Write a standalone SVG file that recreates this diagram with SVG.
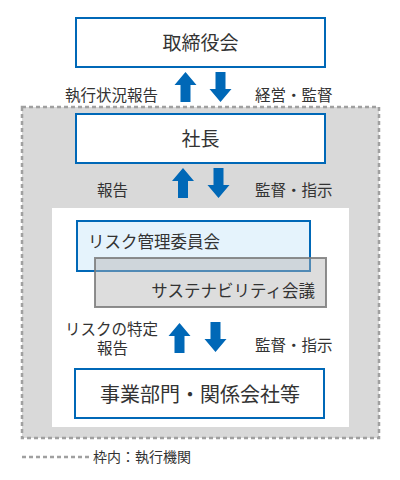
<svg xmlns="http://www.w3.org/2000/svg" xmlns:xlink="http://www.w3.org/1999/xlink" width="400" height="480" viewBox="0 0 400 480">
<style>
text{font-family:"Noto Sans CJK JP","Noto Sans",sans-serif;fill:#333}
.box{fill:#fff;stroke:#0068b7;stroke-width:2}
.big{font-size:19px;text-anchor:middle}
.lbl{font-size:15.5px}
.mid{font-size:16.5px}
.arrow{fill:#0068b7}
.dash{fill:none;stroke:#a0a0a0;stroke-width:2.5;stroke-dasharray:4 3}
</style>
<defs>
<path id="up" d="M0,0 L11,13 L5,13 L5,30 L-5,30 L-5,13 L-11,13 Z"/>
<path id="down" d="M0,30 L11,17 L5,17 L5,0 L-5,0 L-5,17 L-11,17 Z"/>
</defs>
<g id="frame-executive">
<rect x="22" y="107" width="357" height="331" fill="#d9d9d9"/>
<rect x="22" y="107" width="357" height="331" class="dash"/>
<rect x="52" y="208" width="297" height="219" fill="#fff"/>
</g>
<g id="node-board">
<rect class="box" x="76" y="18" width="249" height="49"/>
<text class="big" x="200.5" y="50">取締役会</text>
</g>
<g id="node-president">
<rect class="box" x="76" y="114" width="249" height="49"/>
<text class="big" x="200.5" y="146">社長</text>
</g>
<g id="node-risk">
<rect x="77" y="221" width="233" height="50" fill="#e5f3fc" stroke="#0068b7" stroke-width="2"/>
<text class="mid" x="88" y="248">リスク管理委員会</text>
</g>
<g id="node-sustainability">
<rect x="95" y="258" width="231" height="49" fill="#b4b4b4" fill-opacity="0.45" stroke="#7a7a7a" stroke-opacity="0.85" stroke-width="2"/>
<text class="mid" x="315" y="297" text-anchor="end">サステナビリティ会議</text>
</g>
<g id="node-business">
<rect class="box" x="75" y="369" width="249" height="49"/>
<text class="big" x="200" y="402" style="font-size:20px">事業部門・関係会社等</text>
</g>
<g id="connectors">
<use href="#up" class="arrow" transform="translate(185.5,72)"/>
<use href="#down" class="arrow" transform="translate(220.5,72)"/>
<use href="#up" class="arrow" transform="translate(183,168)"/>
<use href="#down" class="arrow" transform="translate(218.5,168)"/>
<use href="#up" class="arrow" transform="translate(179.5,323)"/>
<use href="#down" class="arrow" transform="translate(215.5,322)"/>
<text class="lbl" x="65" y="101">執行状況報告</text>
<text class="lbl" x="255" y="101">経営・監督</text>
<text class="lbl" x="97" y="196">報告</text>
<text class="lbl" x="255" y="196">監督・指示</text>
<text class="lbl" x="65" y="335">リスクの特定</text>
<text class="lbl" x="97" y="354">報告</text>
<text class="lbl" x="255" y="351">監督・指示</text>
</g>
<g id="legend">
<line x1="22" y1="457" x2="90" y2="457" class="dash"/>
<text x="93" y="462" style="font-size:14px">枠内：執行機関</text>
</g>
</svg>
